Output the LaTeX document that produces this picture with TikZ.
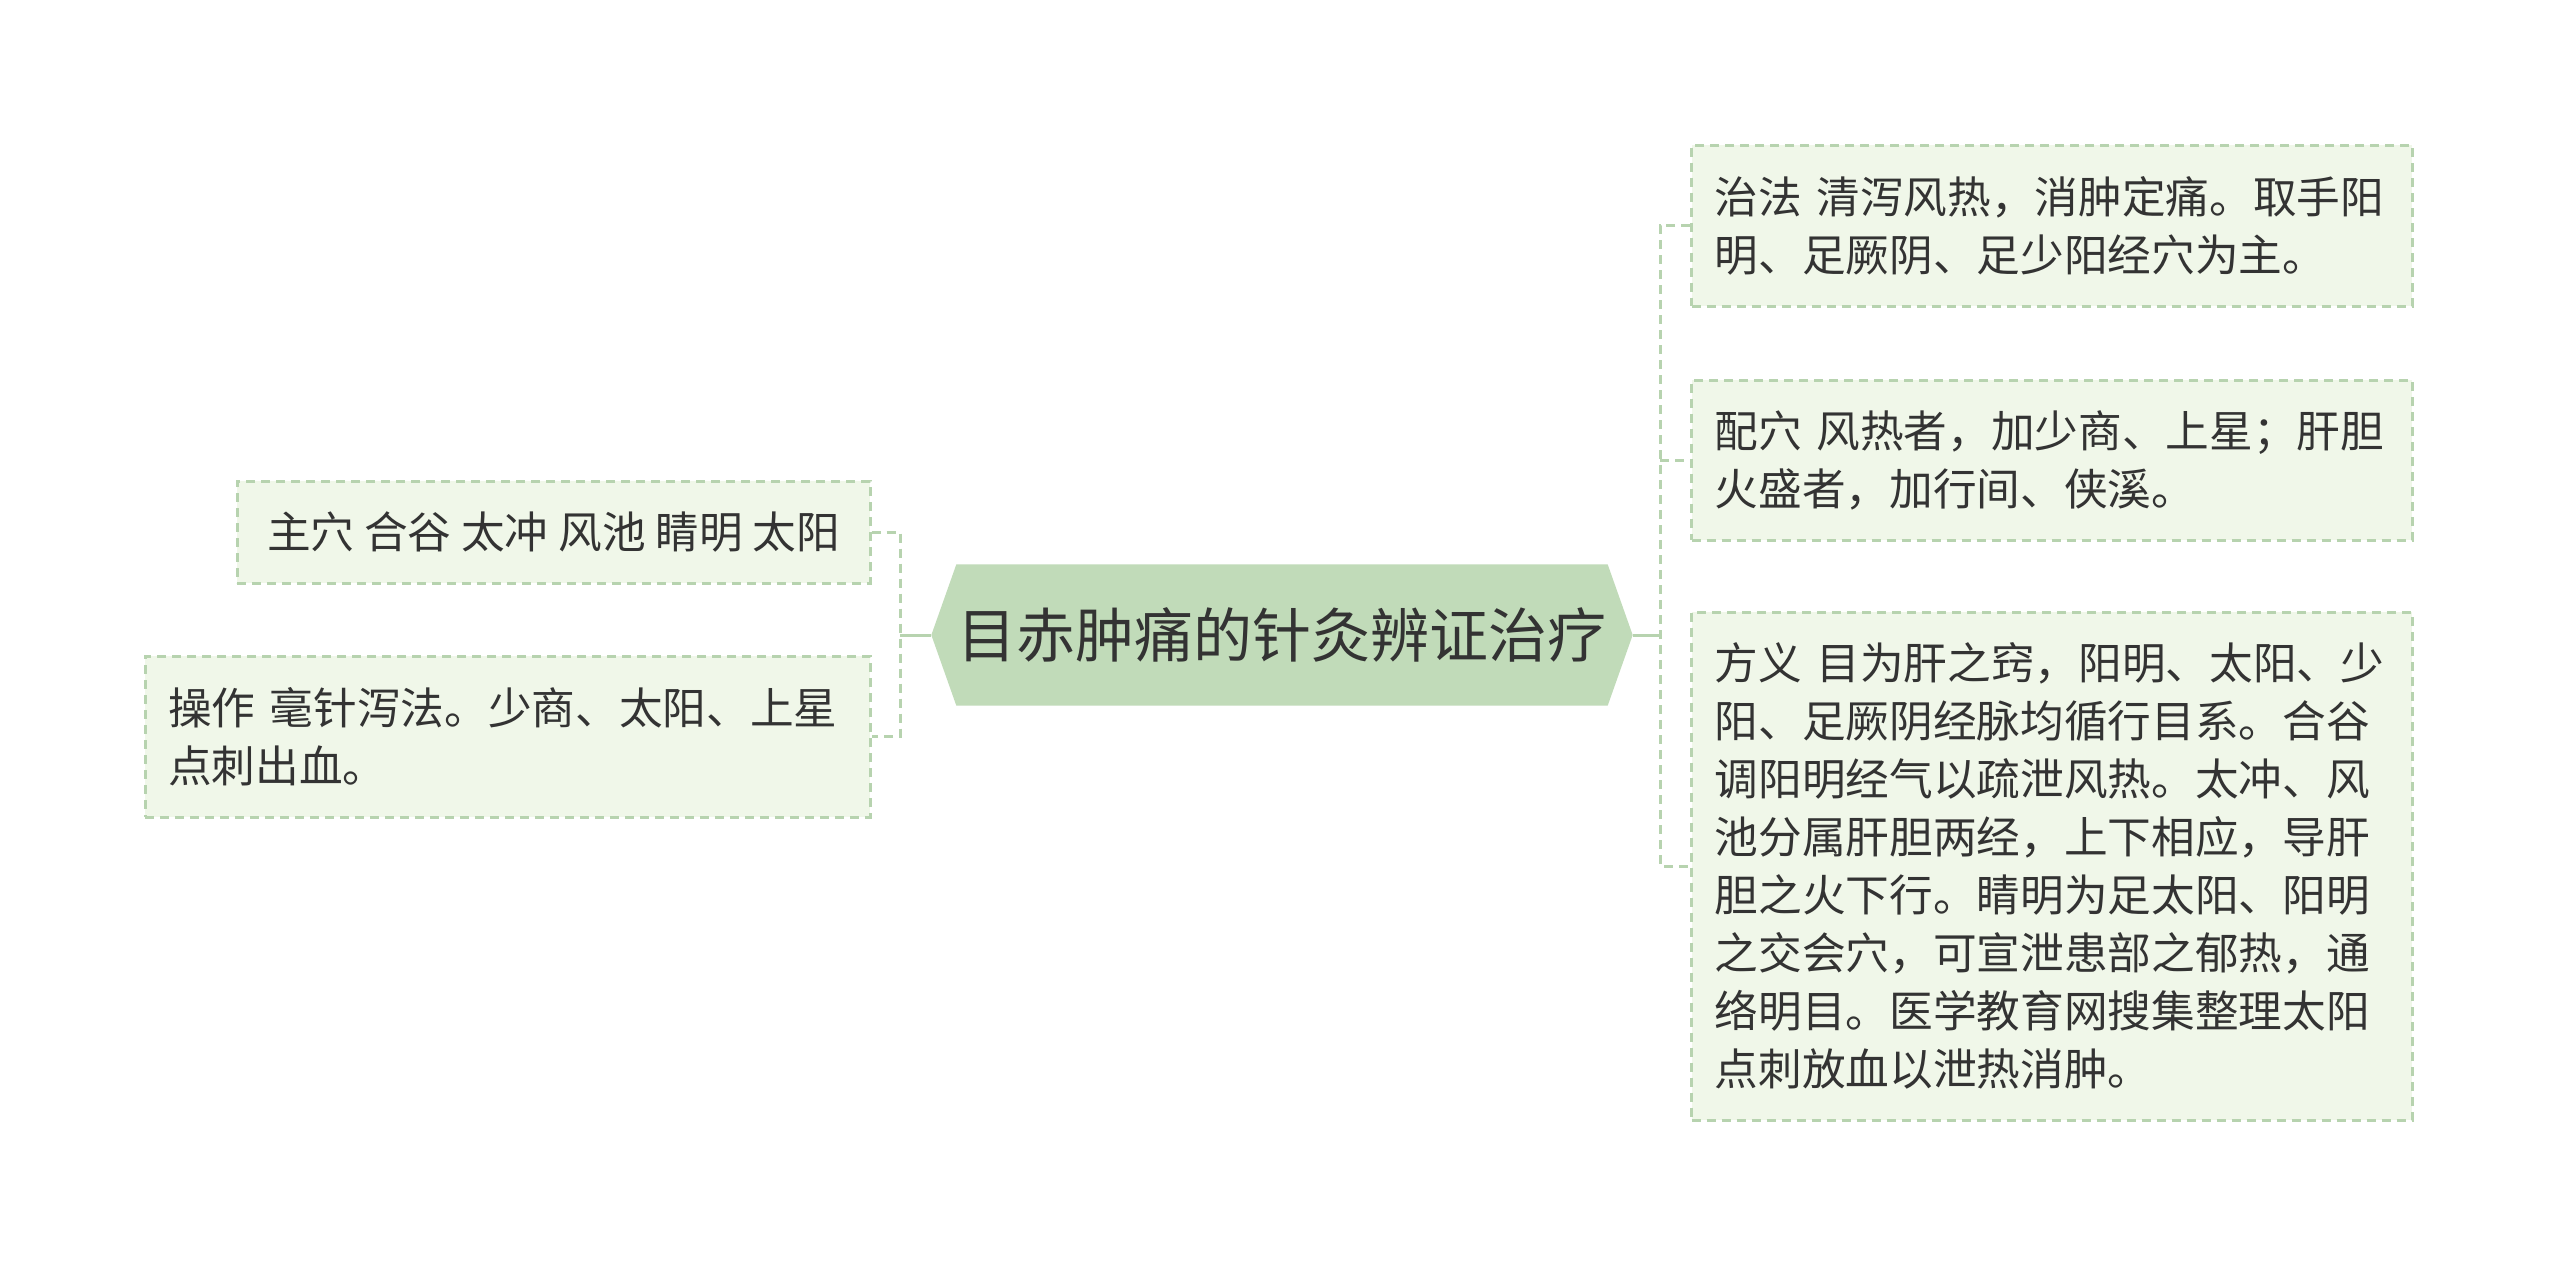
\documentclass[tikz,border=0pt]{standalone}
\usepackage{fontspec}
\setmainfont{Noto Sans CJK SC}
\usetikzlibrary{backgrounds}
\definecolor{cfill}{HTML}{C1DBB9}
\definecolor{bfill}{HTML}{F0F7E9}
\definecolor{bline}{HTML}{B7D3AF}
\definecolor{txt}{HTML}{333333}
\begin{document}
\begin{tikzpicture}[x=0.3pt,y=-0.3pt,
  box/.style={draw=bline, fill=bfill, line width=0.9pt, dash pattern=on 2.7pt off 1.8pt,
    inner xsep=6.9pt, inner ysep=0pt, font=\fontsize{13.1pt}{17.4pt}\selectfont, text=txt, align=left},
  conn/.style={draw=bline, line width=0.9pt},
  dconn/.style={conn, dash pattern=on 2.7pt off 1.8pt}]
\useasboundingbox (0,0) rectangle (2560,1265);

\node[inner sep=0pt, minimum width=195pt, minimum height=42pt,
  font=\fontsize{17.7pt}{20pt}\selectfont, text=txt] (c) at (1282,635) {目赤肿痛的针灸辨证治疗};
\coordinate (ctl) at ([xshift=-7.5pt]c.west);
\coordinate (ctr) at ([xshift=7.5pt]c.east);
\begin{scope}[on background layer]
  \fill[white] (0,0) rectangle (2560,1265);
  \fill[cfill] (ctl) -- (c.north west) -- (c.north east) -- (ctr) -- (c.south east) -- (c.south west) -- cycle;
\end{scope}

\node[box, align=center, minimum width=189.9pt, minimum height=30.6pt] (l1) at (553.5,532)
  {主穴 合谷 太冲 风池 睛明 太阳};
\node[box, text width=203.7pt, minimum height=48.3pt] (l2) at (507.5,736.5)
  {操作 毫针泻法。少商、太阳、上星\\点刺出血。};
\node[box, text width=202.4pt, minimum height=48.3pt] (r1) at (2052,225.5)
  {治法 清泻风热，消肿定痛。取手阳\\明、足厥阴、足少阳经穴为主。};
\node[box, text width=202.4pt, minimum height=48pt] (r2) at (2052,460)
  {配穴 风热者，加少商、上星；肝胆\\火盛者，加行间、侠溪。};
\node[box, text width=202.4pt, minimum height=152.4pt] (r3) at (2052,866)
  {方义 目为肝之窍，阳明、太阳、少\\阳、足厥阴经脉均循行目系。合谷\\调阳明经气以疏泄风热。太冲、风\\池分属肝胆两经，上下相应，导肝\\胆之火下行。睛明为足太阳、阳明\\之交会穴，可宣泄患部之郁热，通\\络明目。医学教育网搜集整理太阳\\点刺放血以泄热消肿。};

\coordinate (lv) at (900,635);
\coordinate (rv) at (1660,635);
\draw[conn] (ctl) -- (lv);
\draw[dconn] (l1.east) -- (l1.east -| lv) -- (l2.east -| lv) -- (l2.east);
\draw[conn] (ctr) -- (rv);
\draw[dconn] (r1.west) -- (r1.west -| rv) -- (r3.west -| rv) -- (r3.west);
\draw[dconn] (r2.west -| rv) -- (r2.west);
\end{tikzpicture}
\end{document}
